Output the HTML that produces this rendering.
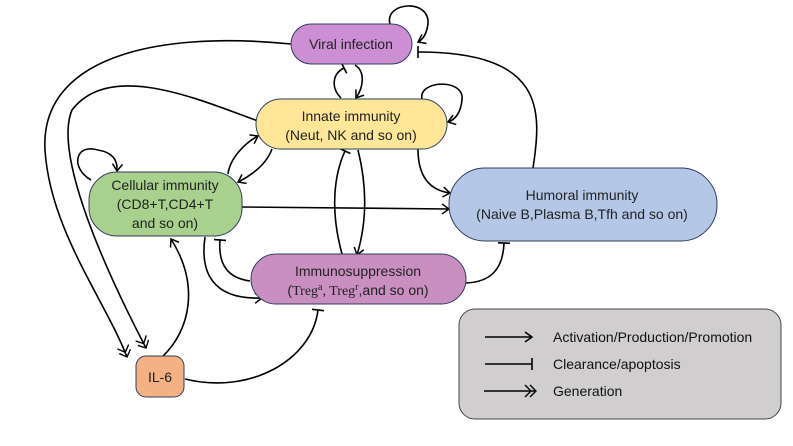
<!DOCTYPE html>
<html><head><meta charset="utf-8"><style>
html,body{margin:0;padding:0;background:#fff;}
svg{display:block;font-family:"Liberation Sans","DejaVu Sans",sans-serif;}
</style></head><body>
<svg width="793" height="446" viewBox="0 0 793 446" xmlns="http://www.w3.org/2000/svg">
<defs>
<marker id="a" markerWidth="12" markerHeight="12" refX="9" refY="6" orient="auto" markerUnits="userSpaceOnUse"><path d="M2,1 L9,6 L2,11" fill="none" stroke="#000" stroke-width="1.5"/></marker>
<marker id="t" markerWidth="12" markerHeight="14" refX="6" refY="7" orient="auto" markerUnits="userSpaceOnUse"><path d="M6,1 L6,13" stroke="#000" stroke-width="1.6"/></marker>
<marker id="g" markerWidth="16" markerHeight="14" refX="13" refY="7" orient="auto" markerUnits="userSpaceOnUse"><path d="M2,1 L8,7 L2,13 M7,1 L13,7 L7,13" fill="none" stroke="#000" stroke-width="1.4"/></marker>
</defs>
<g fill="none" stroke="#000" stroke-width="1.6">
<path d="M390,24 C384,2 430,-2 428,24 Q426,38 418,42" marker-end="url(#a)"/>
<path d="M533,168 C542,110 545,52 418,52" marker-end="url(#t)"/>
<path d="M355,65 C366,72 363,88 356,98" marker-end="url(#a)"/>
<path d="M341,98 C331,88 332,74 344,68" marker-end="url(#t)"/>
<path d="M291,44 C150,30 40,60 45,150 C50,230 105,300 127,357" marker-end="url(#g)"/>
<path d="M258,121 C200,100 110,60 72,110 C55,150 95,250 146,348" marker-end="url(#g)"/>
<path d="M422,99 C418,80 465,78 462,100 Q460,118 448,122" marker-end="url(#a)"/>
<path d="M228,174 C230,158 245,143 258,136" marker-end="url(#a)"/>
<path d="M272,149 C266,165 252,175 238,182" marker-end="url(#a)"/>
<path d="M91,180 C70,168 75,143 98,150 C110,152 118,158 117,171" marker-end="url(#a)"/>
<path d="M242,207 L449,209" marker-end="url(#a)"/>
<path d="M418,149 C418,175 428,190 450,193" marker-end="url(#a)"/>
<path d="M342,254 C330,210 334,175 345,151" marker-end="url(#t)"/>
<path d="M358,150 C368,190 366,225 357,255" marker-end="url(#a)"/>
<path d="M466,283 C490,282 503,270 504,243" marker-end="url(#t)"/>
<path d="M250,281 C228,278 218,265 220,240" marker-end="url(#t)"/>
<path d="M205,237 C200,272 212,300 262,298" marker-end="url(#a)"/>
<path d="M163,356 C190,330 200,285 171,239" marker-end="url(#a)"/>
<path d="M185,379 C250,395 312,360 318,310" marker-end="url(#t)"/>
</g>
<g stroke="#2f3d5c" stroke-width="1">
<rect x="291" y="24" width="121" height="40" rx="20" fill="#cc8fd4"/>
<rect x="256" y="99" width="191" height="50" rx="25" fill="#ffe699"/>
<rect x="89" y="172" width="153" height="64" rx="28" fill="#a9d18e"/>
<rect x="449" y="168" width="268" height="73" rx="36" fill="#b4c7e7"/>
<rect x="251" y="254" width="215" height="50" rx="25" fill="#c98fc0"/>
<rect x="136" y="356" width="48" height="41" rx="10" fill="#f4b183"/>
</g>
<rect x="459" y="309" width="322" height="110" rx="16" fill="#d0cece" stroke="#444" stroke-width="1"/>
<g font-size="14" fill="#222" text-anchor="middle">
<text x="351" y="49">Viral infection</text>
<text x="351" y="121">Innate immunity</text>
<text x="351" y="140">(Neut,  NK and so on)</text>
<text x="165" y="190">Cellular immunity</text>
<text x="165" y="209">(CD8+T,CD4+T</text>
<text x="165" y="228">and so on)</text>
<text x="582" y="200">Humoral immunity</text>
<text x="582" y="219">(Naive B,Plasma B,Tfh and so on)</text>
<text x="358" y="276">Immunosuppression</text>
<text x="358" y="295">(<tspan font-family="Liberation Serif,serif">Treg<tspan font-size="10" dy="-5">a</tspan><tspan dy="5">, Treg</tspan><tspan font-size="10" dy="-5">r</tspan></tspan><tspan dy="5">,and so on)</tspan></text>
<text x="160" y="382">IL-6</text>
</g>
<g fill="none" stroke="#000" stroke-width="1.6">
<path d="M485,337 L532,337" marker-end="url(#a)"/>
<path d="M485,364 L532,364" marker-end="url(#t)"/>
<path d="M484,391 L536,391" marker-end="url(#g)"/>
</g>
<g font-size="14" fill="#111">
<text x="553" y="342">Activation/Production/Promotion</text>
<text x="553" y="369">Clearance/apoptosis</text>
<text x="553" y="396">Generation</text>
</g>
</svg>
</body></html>
